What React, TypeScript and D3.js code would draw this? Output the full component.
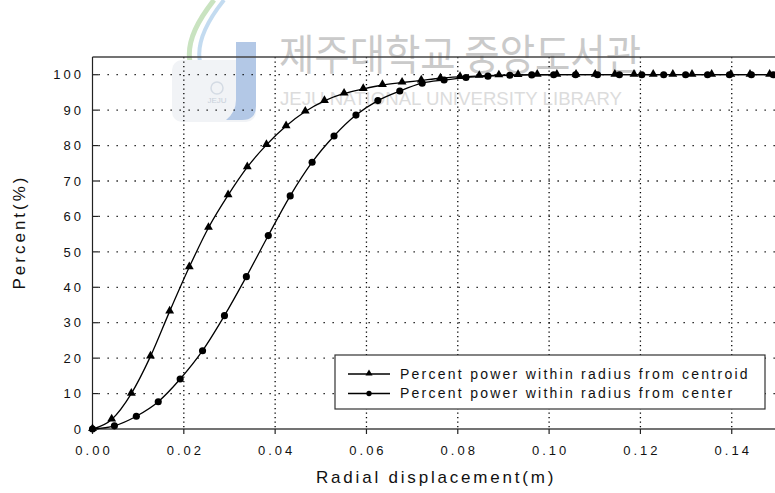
import React from "react";
import * as d3 from "d3";

// Radial positions (m) and enclosed power (%) for the two reference points
const centroidX = [
  0, 0.0042, 0.0085, 0.0127, 0.0169, 0.0212, 0.0254, 0.0297, 0.0339, 0.0381,
  0.0424, 0.0466, 0.0508, 0.0551, 0.0593, 0.0635, 0.0678, 0.072, 0.0762, 0.0805,
  0.0847, 0.089, 0.0932, 0.0974, 0.1017, 0.1059, 0.1101, 0.1144, 0.1186, 0.1228,
  0.1271, 0.1313, 0.1356, 0.1398, 0.144, 0.1483,
];
const centroidY = [
  0, 2.7, 10.0, 20.5, 33.2, 45.7, 56.8, 66.0, 73.9, 80.2,
  85.5, 89.6, 92.6, 94.7, 96.0, 97.1, 97.8, 98.4, 99.0, 99.4,
  99.7, 99.85, 99.95, 100, 100, 100, 100, 100, 100, 100,
  100, 100, 100, 100, 100, 100,
];
const centerX = [
  0, 0.0048, 0.0096, 0.0144, 0.0192, 0.0241, 0.0289, 0.0337, 0.0385, 0.0433,
  0.0481, 0.0529, 0.0577, 0.0625, 0.0673, 0.0722, 0.077, 0.0818, 0.0866, 0.0914,
  0.0962, 0.101, 0.1058, 0.1106, 0.1154, 0.1203, 0.1251, 0.1299, 0.1347, 0.1395,
  0.1443, 0.1491,
];
const centerY = [
  0, 0.9, 3.6, 7.7, 14.1, 22.1, 32.0, 43.0, 54.6, 65.8,
  75.3, 82.7, 88.6, 92.7, 95.4, 97.6, 98.5, 99.2, 99.6, 99.85,
  99.95, 100, 100, 100, 100, 100, 100, 100, 100, 100,
  100, 100,
];

const xTicks = [0, 0.02, 0.04, 0.06, 0.08, 0.1, 0.12, 0.14];
const yTicks = [0, 10, 20, 30, 40, 50, 60, 70, 80, 90, 100];

const seriesNames = [
  "Percent power within radius from centroid",
  "Percent power within radius from center",
];
const xTitle = "Radial displacement(m)";
const yTitle = "Percent(%)";
const libraryName = "제주대학교 중앙도서관";
const libraryNameEn = "JEJU NATIONAL UNIVERSITY LIBRARY";

const W = 775;
const H = 493;
const FONT = "'Liberation Sans', Arial, sans-serif";

export default function App() {
  const x = d3.scaleLinear().domain([0, 0.15]).range([92.5, 777.4]);
  const y = d3.scaleLinear().domain([0, 105]).range([429, 57]);

  const line = d3
    .line<[number, number]>()
    .x((d) => x(d[0]))
    .y((d) => y(d[1]))
    .curve(d3.curveMonotoneX);

  const centroidPts = centroidX.map((v, i) => [v, centroidY[i]] as [number, number]);
  const centerPts = centerX.map((v, i) => [v, centerY[i]] as [number, number]);

  const tri = d3.symbol().type(d3.symbolTriangle).size(34)();
  const dot = d3.symbol().type(d3.symbolCircle).size(40)();

  const x0 = x(0);
  const yTop = y(105);
  const yBot = y(0);

  return (
    <div style={{ position: "absolute", left: 0, top: 0, width: W, height: H }}>
      <svg width={W} height={H} style={{ display: "block", background: "#fff" }}>
        {/* library watermark */}
        <g>
          <path
            d="M214,0 C200,18 186,40 190,62 C192,72 198,78 206,80"
            fill="none"
            stroke="#bcdcb0"
            strokeWidth={5}
            opacity={0.8}
          />
          <path
            d="M224,0 C208,20 196,42 200,62 C202,70 206,74 212,76"
            fill="none"
            stroke="#b4d2ec"
            strokeWidth={4}
            opacity={0.8}
          />
          <rect x={172} y={60} width={84} height={62} rx={10} fill="#f1f3f6" />
          <circle cx={217} cy={88} r={6} fill="none" stroke="#d4dbe4" strokeWidth={1.5} />
          <text x={217} y={103} fontSize={8} fill="#c8d0da" textAnchor="middle" fontFamily={FONT}>
            JEJU
          </text>
          <path
            d="M236,42 L256,42 L256,106 Q256,120 242,120 L226,120 Q236,112 236,100 Z"
            fill="#b3c8e6"
          />
          <text
            x={279}
            y={70}
            fontSize={42}
            fill="#cacaca"
            fontFamily="'Noto Sans CJK KR', sans-serif"
            textLength={362}
            lengthAdjust="spacingAndGlyphs"
          >
            {libraryName}
          </text>
          <text
            x={280}
            y={105}
            fontSize={18}
            fill="#dcdcdc"
            fontFamily={FONT}
            textLength={342}
            lengthAdjust="spacingAndGlyphs"
          >
            {libraryNameEn}
          </text>
        </g>

        {/* dotted grid */}
        <g stroke="#000" strokeWidth={1.3}>
          {yTicks
            .filter((t) => t > 0)
            .map((t) => (
              <line
                key={"gy" + t}
                x1={x0 + 6}
                x2={W}
                y1={y(t)}
                y2={y(t)}
                strokeDasharray="1.3,7.7"
              />
            ))}
          {xTicks
            .filter((t) => t > 0)
            .map((t) => (
              <line
                key={"gx" + t}
                x1={x(t)}
                x2={x(t)}
                y1={yTop}
                y2={yBot}
                strokeDasharray="1.3,3.2"
              />
            ))}
        </g>

        {/* frame and axes */}
        <line x1={x0} x2={W} y1={yTop} y2={yTop} stroke="#444" strokeWidth={1.6} />
        <line x1={x0} x2={x0} y1={yTop} y2={yBot} stroke="#222" strokeWidth={1.2} />
        <line x1={x0} x2={W} y1={yBot} y2={yBot} stroke="#444" strokeWidth={1.5} />
        {xTicks.map((t) => (
          <line key={"tx" + t} x1={x(t)} x2={x(t)} y1={yBot} y2={yBot + 5} stroke="#222" strokeWidth={1.2} />
        ))}
        {yTicks.map((t) => (
          <line key={"ty" + t} x1={x0} x2={x0 + 6} y1={y(t)} y2={y(t)} stroke="#222" strokeWidth={1.2} />
        ))}

        {/* tick labels */}
        <g fontFamily={FONT} fontSize={13} fill="#111" letterSpacing={3}>
          {xTicks.map((t) => (
            <text key={"lx" + t} x={x(t) + 1.5} y={455} textAnchor="middle">
              {d3.format(".2f")(t)}
            </text>
          ))}
          {yTicks.map((t) => (
            <text key={"ly" + t} x={84} y={y(t) + 4.7} textAnchor="end">
              {t}
            </text>
          ))}
        </g>

        {/* axis titles */}
        <text x={316} y={483} fontFamily={FONT} fontSize={17} letterSpacing={2.8} fill="#111">
          {xTitle}
        </text>
        <text
          transform="translate(25,232) rotate(-90)"
          textAnchor="middle"
          fontFamily={FONT}
          fontSize={17}
          letterSpacing={3}
          fill="#111"
        >
          {yTitle}
        </text>

        {/* series */}
        <path d={line(centerPts) || ""} fill="none" stroke="#000" strokeWidth={1.3} />
        <path d={line(centroidPts) || ""} fill="none" stroke="#000" strokeWidth={1.3} />
        {centerPts.map((p, i) => (
          <path key={"c" + i} d={dot || ""} transform={`translate(${x(p[0])},${y(p[1])})`} fill="#000" />
        ))}
        {centroidPts.map((p, i) => (
          <path key={"t" + i} d={tri || ""} transform={`translate(${x(p[0])},${y(p[1]) - 0.5})`} fill="#000" />
        ))}

        {/* legend */}
        <g>
          <rect x={335} y={355} width={430} height={54} fill="#fff" stroke="#333" strokeWidth={1.2} />
          {seriesNames.map((name, i) => {
            const ly = 374 + i * 19.5;
            return (
              <g key={name}>
                <line x1={348} x2={390} y1={ly} y2={ly} stroke="#000" strokeWidth={1.3} />
                <path
                  d={(i === 0 ? d3.symbol().type(d3.symbolTriangle).size(22)() : d3.symbol().type(d3.symbolCircle).size(22)()) || ""}
                  transform={`translate(369,${ly - (i === 0 ? 0.5 : 0)})`}
                  fill="#000"
                />
                <text x={400} y={ly + 3.5 + 1.3} fontFamily={FONT} fontSize={14} letterSpacing={2.25} fill="#111">
                  {name}
                </text>
              </g>
            );
          })}
        </g>
      </svg>
    </div>
  );
}
